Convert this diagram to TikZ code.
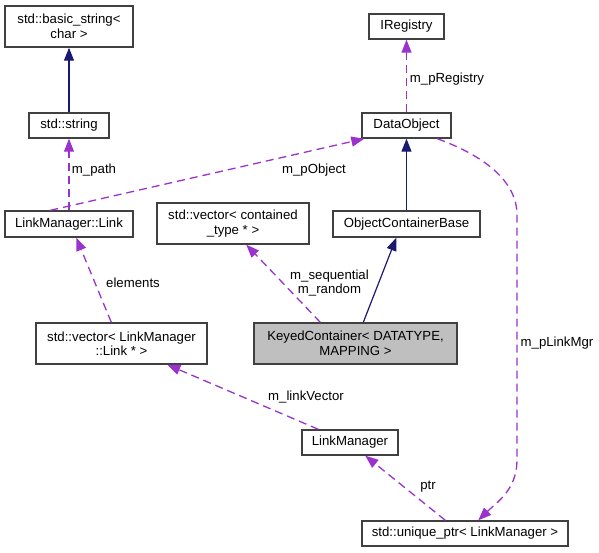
\documentclass[tikz,border=0pt]{standalone}
\usepackage{fontspec}
\setmainfont{Liberation Sans}
\usetikzlibrary{arrows.meta}
\definecolor{edgepurple}{HTML}{9A32CD}
\definecolor{edgenavy}{HTML}{191970}
\definecolor{boxborder}{HTML}{404040}
\definecolor{boxgrey}{HTML}{BFBFBF}
\tikzset{
  cls/.style={draw=boxborder, line width=1.4pt, fill=white, rectangle, inner sep=0pt,
    align=center, font=\fontsize{13.2}{14.5}\selectfont},
  lbl/.style={inner sep=0pt, align=center, font=\fontsize{13.2}{14.5}\selectfont},
  inherit/.style={draw=edgenavy, line width=1.2pt, -{Triangle[length=13pt,width=10pt]}},
  uses/.style={draw=edgepurple, line width=1.3pt, dash pattern=on 8pt off 5pt,
    -{Triangle[length=13pt,width=10pt]}},
}
\begin{document}
\begin{tikzpicture}[x=1pt,y=-1pt]
\useasboundingbox (0,0) rectangle (599,552);
% classes
\node[cls, minimum width=128pt, minimum height=41pt] (bs) at (69,26.5) {std::basic\_string<\\char >};
\node[cls, minimum width=80pt, minimum height=25pt] (str) at (69,125.5) {std::string};
\node[cls, minimum width=128pt, minimum height=26pt] (link) at (69,224) {LinkManager::Link};
\node[cls, minimum width=152pt, minimum height=41pt] (vcont) at (233,223.5) {std::vector< contained\\\_type * >};
\node[cls, minimum width=75pt, minimum height=25pt] (ireg) at (406.5,26.5) {IRegistry};
\node[cls, minimum width=89pt, minimum height=25pt] (dobj) at (406.5,125.5) {DataObject};
\node[cls, minimum width=147pt, minimum height=26pt] (ocb) at (406.5,224) {ObjectContainerBase};
\node[cls, fill=boxgrey, minimum width=203pt, minimum height=41pt] (kc) at (355.5,343.5) {KeyedContainer< DATATYPE,\\MAPPING >};
\node[cls, minimum width=171pt, minimum height=41pt] (vlink) at (121.5,343.5) {std::vector< LinkManager\\::Link * >};
\node[cls, minimum width=96pt, minimum height=25pt] (lm) at (350,442.5) {LinkManager};
\node[cls, minimum width=206pt, minimum height=25pt] (up) at (465,533.5) {std::unique\_ptr< LinkManager >};
% edges
\draw[inherit] (str.north) -- (bs.south);
\draw[uses] (link.north) -- (str.south);
\draw[uses] ([xshift=46pt]link.north west) -- ([xshift=3pt]dobj.south west);
\draw[uses] (dobj.north) -- (ireg.south);
\draw[inherit] (ocb.north) -- (dobj.south);
\draw[inherit] ([xshift=110pt]kc.north west) -- ([xshift=64pt]ocb.south west);
\draw[uses] ([xshift=67pt]kc.north west) -- ([xshift=90pt]vcont.south west);
\draw[uses] ([xshift=76pt]vlink.north west) -- ([xshift=72pt]link.south west);
\draw[uses] ([xshift=17pt]lm.north west) -- ([xshift=132pt]vlink.south west);
\draw[uses] ([xshift=84pt]up.north west) -- ([xshift=64pt]lm.south west);
\coordinate (c1) at (517,215);
\coordinate (c2) at (517,460);
\draw[uses] ([xshift=76pt]dobj.south west) .. controls (482,155) and (517,180) .. (c1)
  -- (c2) .. controls (517,490) and (496,503) .. ([xshift=117pt]up.north west);
% labels
\node[lbl] (lpath) at (94,170) {m\_path};
\node[lbl] (lpobj) at (314,170) {m\_pObject};
\node[lbl] (lpreg) at (447,79) {m\_pRegistry};
\node[lbl] (lelem) at (133,283) {elements};
\node[lbl] (lseq) at (329.5,283) {m\_sequential\\m\_random};
\node[lbl] (llv) at (306,397) {m\_linkVector};
\node[lbl] (lptr) at (428,487) {ptr};
\node[lbl] (lplm) at (557,343) {m\_pLinkMgr};
\end{tikzpicture}
\end{document}
